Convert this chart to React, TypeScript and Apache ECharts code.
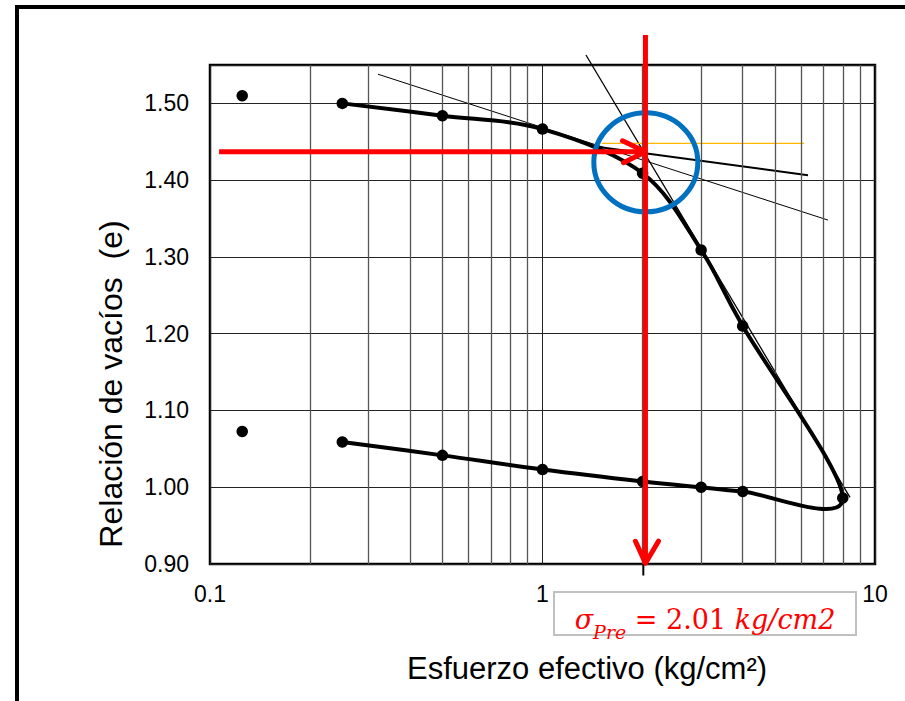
import React, { useEffect, useRef } from 'react';
import * as echarts from 'echarts';

// ---- data ----
const loadingStress = [0.25, 0.5, 1, 2, 3, 4, 8];
const loadingVoid = [1.5, 1.484, 1.4665, 1.409, 1.309, 1.21, 0.986];
const unloadingStress = [4, 3, 2, 1, 0.5, 0.25];
const unloadingVoid = [0.9945, 1.0, 1.0075, 1.023, 1.0415, 1.059];
const seatingStress = [0.125, 0.125];
const seatingVoid = [1.51, 1.0727];

const minorGridX = [0.2, 0.3, 0.4, 0.5, 0.6, 0.7, 0.8, 0.9, 2, 3, 4, 5, 6, 7, 8, 9];

// Casagrande construction lines [stress, e]
const tangentA = [[0.32, 1.538], [7.22, 1.348]];
const virginLine = [[1.351, 1.563], [8.41, 0.9867]];
const bisector = [[1.419, 1.4443], [6.288, 1.4065]];
const horizontalLine = [[1.507, 1.4478], [6.117, 1.4478]];
const preconLine = [[2.01, 1.455], [2.01, 0.885]];

// annotation anchors [stress, e]
const hArrowFrom = [0.1065, 1.437];
const hArrowTo = [2.04, 1.437];
const vArrowFrom = [2.04, 1.589];
const vArrowTo = [2.04, 0.901];
const circleCenter = [2.045, 1.4232];

const sigmaPre = '2.01';

const FONT = "'Liberation Sans', Arial, sans-serif";

export default function App() {
  const ref = useRef<HTMLDivElement>(null);

  useEffect(() => {
    if (!ref.current) return;
    const chart = echarts.init(ref.current, undefined, { renderer: 'svg' });

    const curve = [
      ...loadingStress.map((s, i) => [s, loadingVoid[i]]),
      ...unloadingStress.map((s, i) => [s, unloadingVoid[i]]),
    ];
    const seating = seatingStress.map((s, i) => [s, seatingVoid[i]]);

    const thin = (data: number[][], width: number, color = '#000') => ({
      type: 'line',
      data,
      symbol: 'none',
      clip: false,
      z: 4,
      silent: true,
      lineStyle: { color, width },
    });

    // Excel-like smoothed line (Catmull-Rom, 1/6 tension) through the data, via the axes' scales
    const smoothRender = (params: any, api: any) => {
      const i = params.dataIndex;
      const n = curve.length;
      if (i >= n - 1) return null;
      const p = (k: number) => api.coord(curve[Math.max(0, Math.min(n - 1, k))]);
      const p0 = p(i - 1), p1 = p(i), p2 = p(i + 1), p3 = p(i + 2);
      return {
        type: 'bezierCurve',
        shape: {
          x1: p1[0], y1: p1[1],
          cpx1: p1[0] + (p2[0] - p0[0]) / 6,
          cpy1: p1[1] + (p2[1] - p0[1]) / 6,
          cpx2: p2[0] - (p3[0] - p1[0]) / 6,
          cpy2: p2[1] - (p3[1] - p1[1]) / 6,
          x2: p2[0], y2: p2[1],
        },
        style: { stroke: '#000', lineWidth: 4, fill: 'none', lineCap: 'round' },
      };
    };

    chart.setOption({
      animation: false,
      grid: {
        left: 210,
        top: 65,
        right: 30,
        bottom: 137,
        show: true,
        borderColor: '#000',
        borderWidth: 2.5,
        backgroundColor: 'transparent',
      },
      xAxis: {
        type: 'log',
        logBase: 10,
        min: 0.1,
        max: 10,
        axisLine: { show: false },
        axisTick: { show: false },
        splitLine: { show: true, lineStyle: { color: '#222', width: 1 } },
        axisLabel: {
          fontFamily: FONT,
          fontSize: 23,
          color: '#000',
          margin: 18,
          formatter: (v: number) => String(+v.toPrecision(3)),
        },
      },
      yAxis: {
        type: 'value',
        min: 0.9,
        max: 1.55,
        interval: 0.1,
        axisLine: { show: false },
        axisTick: { show: false },
        splitLine: { show: true, lineStyle: { color: '#222', width: 1 } },
        axisLabel: {
          fontFamily: FONT,
          fontSize: 23,
          color: '#000',
          margin: 21,
          formatter: (v: number) =>
            Math.abs(v * 10 - Math.round(v * 10)) < 1e-6 ? v.toFixed(2) : '',
        },
      },
      series: [
        {
          type: 'line',
          data: [],
          z: 1,
          silent: true,
          markLine: {
            silent: true,
            symbol: ['none', 'none'],
            label: { show: false },
            animation: false,
            lineStyle: { color: '#555', width: 1.3, type: 'solid' },
            data: minorGridX.map((v) => ({ xAxis: v })),
          },
        },
        thin(tangentA, 1),
        thin(virginLine, 1.3),
        thin(bisector, 2),
        thin(horizontalLine, 1.3, '#ffb800'),
        thin(preconLine, 2),
        {
          type: 'custom',
          data: curve,
          renderItem: smoothRender,
          z: 5,
          silent: true,
          clip: false,
        },
        {
          type: 'scatter',
          data: curve,
          symbol: 'circle',
          symbolSize: 11.5,
          z: 6,
          itemStyle: { color: '#000', opacity: 1 },
        },
        {
          type: 'scatter',
          data: seating,
          symbol: 'circle',
          symbolSize: 11.5,
          z: 6,
          itemStyle: { color: '#000', opacity: 1 },
        },
      ],
    });

    const px = (p: number[]) => chart.convertToPixel({ gridIndex: 0 }, p) as number[];
    const h0 = px(hArrowFrom);
    const h1 = px(hArrowTo);
    const v0 = px(vArrowFrom);
    const v1 = px(vArrowTo);
    const cc = px(circleCenter);
    const red = '#ff0000';
    const redStroke = { stroke: red, lineWidth: 5, lineCap: 'round', lineJoin: 'round', fill: 'none' };

    chart.setOption({
      graphic: [
        {
          type: 'rect',
          shape: { x: 17, y: 7, width: 1200, height: 1200 },
          style: { stroke: '#000', lineWidth: 4, fill: 'none' },
          silent: true,
          z: 0,
        },
        {
          type: 'text',
          x: 111,
          y: 384,
          rotation: Math.PI / 2,
          style: {
            text: 'Relación de vacíos  (e)',
            fontFamily: FONT,
            fontSize: 32,
            fill: '#000',
            align: 'center',
            verticalAlign: 'middle',
          },
        },
        {
          type: 'text',
          x: 587,
          y: 668,
          style: {
            text: 'Esfuerzo efectivo (kg/cm²)',
            fontFamily: FONT,
            fontSize: 31,
            fill: '#000',
            align: 'center',
            verticalAlign: 'middle',
          },
        },
        {
          type: 'rect',
          shape: { x: 554, y: 592, width: 302, height: 43 },
          style: { stroke: '#c0c0c0', lineWidth: 2, fill: '#fff' },
          z: 10,
        },
        {
          type: 'text',
          x: 705,
          y: 616,
          z: 11,
          style: {
            text: '{it|σ}{sub|Pre}{n| = ' + sigmaPre + ' }{it|kg/cm2}',
            align: 'center',
            verticalAlign: 'middle',
            rich: {
              it: { fontFamily: "'DejaVu Serif', serif", fontStyle: 'italic', fontSize: 27, fill: red, lineHeight: 34, verticalAlign: 'bottom' },
              n: { fontFamily: "'DejaVu Serif', serif", fontSize: 27, fill: red, lineHeight: 34, verticalAlign: 'bottom' },
              sub: { fontFamily: "'DejaVu Serif', serif", fontStyle: 'italic', fontSize: 19, fill: red, lineHeight: 34, verticalAlign: 'bottom', padding: [0, 0, -8, 0] },
            },
          },
        },
        {
          type: 'ellipse',
          shape: { cx: cc[0], cy: cc[1], rx: 52, ry: 49.5 },
          style: { stroke: '#0070c0', lineWidth: 5, fill: 'none' },
          z: 20,
        },
        {
          type: 'line',
          shape: { x1: h0[0], y1: h0[1], x2: h1[0], y2: h1[1] },
          style: { ...redStroke, lineCap: 'butt' },
          z: 21,
        },
        {
          type: 'polyline',
          shape: { points: [[h1[0] - 23, h1[1] - 11], [h1[0], h1[1]], [h1[0] - 22, h1[1] + 11]] },
          style: redStroke,
          z: 21,
        },
        {
          type: 'line',
          shape: { x1: v0[0], y1: v0[1], x2: v1[0], y2: v1[1] },
          style: { ...redStroke, lineCap: 'butt' },
          z: 21,
        },
        {
          type: 'polyline',
          shape: { points: [[v1[0] - 10, v1[1] - 22], [v1[0], v1[1]], [v1[0] + 13, v1[1] - 22]] },
          style: redStroke,
          z: 21,
        },
      ],
    });

    return () => chart.dispose();
  }, []);

  return (
    <div
      ref={ref}
      style={{ position: 'fixed', left: 0, top: 0, width: 905, height: 701, background: '#fff' }}
    />
  );
}
